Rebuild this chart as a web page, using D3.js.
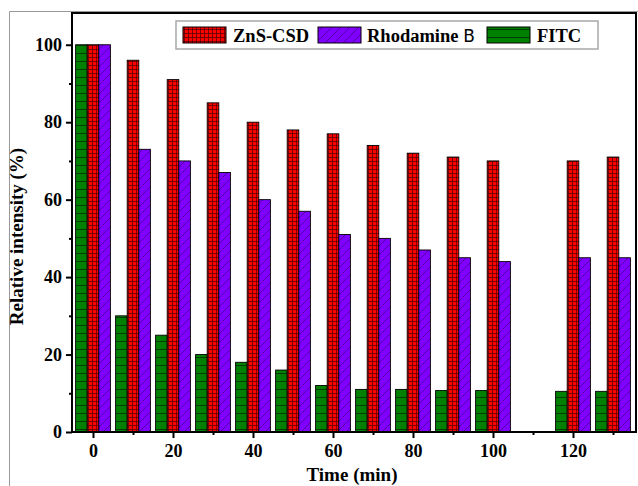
<!DOCTYPE html>
<html>
<head>
<meta charset="utf-8">
<script src="https://cdn.jsdelivr.net/npm/d3@7/dist/d3.min.js"></script>
<style>
  body { margin: 0; background: #fff; }
  svg { display: block; }
  text { font-family: "Liberation Serif", "Times New Roman", serif; font-weight: bold; }
</style>
</head>
<body>
<svg width="638" height="486"></svg>
<script>
// data
var times = [0, 10, 20, 30, 40, 50, 60, 70, 80, 90, 100, 120, 130];
var zns = [100, 96, 91, 85, 80, 78, 77, 74, 72, 71, 70, 70, 71];
var rhodamine = [100, 73, 70, 67, 60, 57, 51, 50, 47, 45, 44, 45, 45];
var fitc = [100, 30, 25, 20, 18, 16, 12, 11, 11, 10.7, 10.7, 10.5, 10.5];
var seriesNames = ["ZnS-CSD", "Rhodamine B", "FITC"];
var xTicks = [0, 20, 40, 60, 80, 100, 120];
var yTicks = [0, 20, 40, 60, 80, 100];

var svg = d3.select("svg"),
    margin = {top: 13, right: 2, bottom: 54, left: 72},
    width = +svg.attr("width") - margin.left - margin.right,
    height = +svg.attr("height") - margin.top - margin.bottom;

// thin grey frame of the original image
svg.append("path")
  .attr("d", "M9.5,486 V11.5 H638")
  .attr("fill", "none")
  .attr("stroke", "#9a9a9a")
  .attr("stroke-width", 1);

var defs = svg.append("defs");

// red grid pattern
var pRed = defs.append("pattern").attr("id", "pRed")
  .attr("patternUnits", "userSpaceOnUse").attr("width", 4).attr("height", 4);
pRed.append("rect").attr("width", 4).attr("height", 4).attr("fill", "#ff0000");
pRed.append("path").attr("d", "M0,0.5 H4 M0.5,0 V4")
  .attr("stroke", "#5a0000").attr("stroke-width", 0.8);

// purple diagonal pattern
var pPur = defs.append("pattern").attr("id", "pPur")
  .attr("patternUnits", "userSpaceOnUse").attr("width", 9).attr("height", 9);
pPur.append("rect").attr("width", 9).attr("height", 9).attr("fill", "#8000ff");
pPur.append("path").attr("d", "M0,9 L9,0 M-2,2 L2,-2 M7,11 L11,7")
  .attr("stroke", "#4a0090").attr("stroke-width", 0.8);

// green horizontal pattern
var pGrn = defs.append("pattern").attr("id", "pGrn")
  .attr("patternUnits", "userSpaceOnUse").attr("width", 8).attr("height", 8);
pGrn.append("rect").attr("width", 8).attr("height", 8).attr("fill", "#008000");
pGrn.append("path").attr("d", "M0,0.5 H8")
  .attr("stroke", "#003300").attr("stroke-width", 0.9);

var fills = ["url(#pRed)", "url(#pPur)", "url(#pGrn)"];

var chartG = svg.append("g")
  .attr("transform", "translate(" + margin.left + "," + margin.top + ")");

var xScale = d3.scaleLinear().domain([-5.25, 135.75]).range([0, width]);
var yScale = d3.scaleLinear().domain([0, 108.2]).range([height, 0]);

var bw = 2.9; // bar width in x units

var rows = times.map(function(t, i) {
  return {t: t, zns: zns[i], rho: rhodamine[i], fitc: fitc[i]};
});

var layers = [
  {key: "fitc", off: -bw, fill: fills[2]},
  {key: "zns", off: 0, fill: fills[0]},
  {key: "rho", off: bw, fill: fills[1]}
];

layers.forEach(function(l) {
  chartG.selectAll(".bar-" + l.key)
    .data(rows)
    .enter().append("rect")
    .attr("class", "bar-" + l.key)
    .attr("x", function(d) { return xScale(d.t + l.off - bw / 2); })
    .attr("width", function(d) { return xScale(bw) - xScale(0); })
    .attr("y", function(d) { return yScale(d[l.key]); })
    .attr("height", function(d) { return height - yScale(d[l.key]); })
    .attr("fill", l.fill)
    .attr("stroke", "#000")
    .attr("stroke-width", 0.9);
});

// axes
chartG.append("g")
  .attr("transform", "translate(0," + height + ")")
  .call(d3.axisBottom(xScale).tickValues(xTicks).tickSize(6).tickPadding(6));
chartG.append("g")
  .attr("transform", "translate(0," + height + ")")
  .call(d3.axisBottom(xScale).tickValues(d3.range(10, 131, 20)).tickSize(3).tickFormat(""));

chartG.append("g")
  .call(d3.axisLeft(yScale).tickValues(yTicks).tickSize(6).tickPadding(4));
chartG.append("g")
  .call(d3.axisLeft(yScale).tickValues(d3.range(10, 100, 20)).tickSize(3).tickFormat(""));

chartG.selectAll(".domain").remove();
chartG.selectAll(".tick line").attr("stroke", "#000").attr("stroke-width", 2);
chartG.selectAll(".tick text")
  .attr("fill", "#000")
  .style("font-size", "18px");

// frame
chartG.append("rect")
  .attr("x", 0).attr("y", 0)
  .attr("width", width).attr("height", height)
  .attr("fill", "none").attr("stroke", "#000").attr("stroke-width", 2);

// axis titles
svg.append("text")
  .attr("x", 352)
  .attr("y", 481)
  .attr("text-anchor", "middle")
  .style("font-size", "19px")
  .text("Time (min)");

svg.append("text")
  .attr("transform", "translate(23," + (margin.top + height / 2 + 14) + ") rotate(-90)")
  .attr("text-anchor", "middle")
  .style("font-size", "19px")
  .text("Relative intensity (%)");

// legend
var lg = svg.append("g").attr("transform", "translate(176,21)");
lg.append("rect")
  .attr("width", 422).attr("height", 28)
  .attr("fill", "#fff").attr("stroke", "#a8a8a8").attr("stroke-width", 1.5);

var legendItems = [
  {sw: 7, tx: 57, fill: fills[0]},
  {sw: 142, tx: 191, fill: fills[1]},
  {sw: 311, tx: 361, fill: fills[2]}
];
legendItems.forEach(function(it, i) {
  lg.append("rect")
    .attr("x", it.sw).attr("y", 6)
    .attr("width", 43).attr("height", 16)
    .attr("fill", it.fill)
    .attr("stroke", "#000").attr("stroke-width", 1);
  var t = lg.append("text")
    .attr("x", it.tx).attr("y", 20.5)
    .style("font-size", "18.5px");
  if (i === 1) {
    t.append("tspan").text("Rhodamine ");
    t.append("tspan")
      .style("font-family", "'DejaVu Sans', sans-serif")
      .style("font-weight", "normal")
      .style("font-size", "17px")
      .text("B");
  } else {
    t.text(seriesNames[i]);
  }
});
</script>
</body>
</html>
